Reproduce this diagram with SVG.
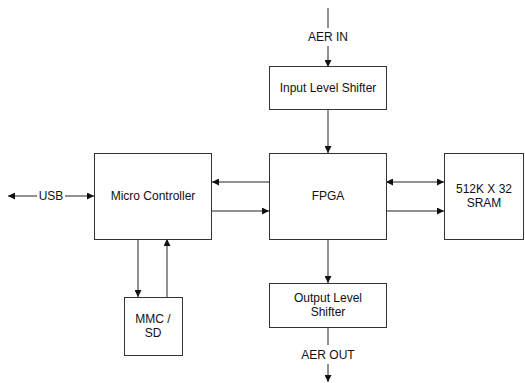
<svg xmlns="http://www.w3.org/2000/svg" width="525" height="383" viewBox="0 0 525 383">
<style>
.box{fill:#fff;stroke:#333;stroke-width:1}
.ln{fill:none;stroke:#222;stroke-width:1}
text{font-family:"Liberation Sans",Arial,sans-serif;font-size:12px;fill:#111;text-anchor:middle}
</style>
<defs>
<marker id="ah" viewBox="0 0 10 10" refX="10" refY="5" markerWidth="7" markerHeight="7" orient="auto-start-reverse" markerUnits="userSpaceOnUse">
<path d="M0,0 L10,5 L0,10 z" fill="#111"/>
</marker>
</defs>
<rect width="525" height="383" fill="#fff"/>
<g id="connectors">
<line class="ln" x1="328" y1="8" x2="328" y2="28"/>
<line class="ln" x1="328" y1="46" x2="328" y2="67" marker-end="url(#ah)"/>
<line class="ln" x1="328" y1="109" x2="328" y2="153" marker-end="url(#ah)"/>
<line class="ln" x1="386" y1="182" x2="444" y2="182" marker-start="url(#ah)" marker-end="url(#ah)"/>
<line class="ln" x1="386" y1="211" x2="444" y2="211" marker-end="url(#ah)"/>
<line class="ln" x1="269" y1="182" x2="212" y2="182" marker-end="url(#ah)"/>
<line class="ln" x1="212" y1="211" x2="269" y2="211" marker-end="url(#ah)"/>
<line class="ln" x1="8" y1="196" x2="37" y2="196" marker-start="url(#ah)"/>
<line class="ln" x1="65" y1="196" x2="94" y2="196" marker-end="url(#ah)"/>
<line class="ln" x1="138" y1="239" x2="138" y2="297" marker-end="url(#ah)"/>
<line class="ln" x1="167" y1="297" x2="167" y2="239" marker-end="url(#ah)"/>
<line class="ln" x1="328" y1="239" x2="328" y2="283" marker-end="url(#ah)"/>
<line class="ln" x1="328" y1="327" x2="328" y2="345"/>
<line class="ln" x1="328" y1="364" x2="328" y2="382" marker-end="url(#ah)"/>
<text x="328" y="41">AER IN</text>
<text x="51" y="200">USB</text>
<text x="328" y="359">AER OUT</text>
</g>
<g id="input-level-shifter">
<rect class="box" x="269.5" y="66.5" width="117" height="43"/>
<text x="328" y="92">Input Level Shifter</text>
</g>
<g id="fpga">
<rect class="box" x="269.5" y="153.5" width="117" height="86"/>
<text x="328" y="200">FPGA</text>
</g>
<g id="micro-controller">
<rect class="box" x="94.5" y="153.5" width="117" height="86"/>
<text x="153" y="200">Micro Controller</text>
</g>
<g id="sram">
<rect class="box" x="444.5" y="153.5" width="79" height="86"/>
<text x="484" y="193">512K X 32</text>
<text x="484" y="207">SRAM</text>
</g>
<g id="output-level-shifter">
<rect class="box" x="269.5" y="283.5" width="117" height="44"/>
<text x="328" y="302">Output Level</text>
<text x="328" y="316">Shifter</text>
</g>
<g id="mmc-sd">
<rect class="box" x="124.5" y="297.5" width="58" height="58"/>
<text x="153" y="323">MMC /</text>
<text x="153" y="337">SD</text>
</g>
</svg>
